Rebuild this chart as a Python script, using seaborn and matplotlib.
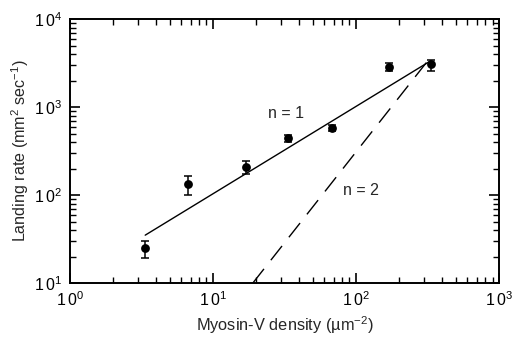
import numpy as np
import pandas as pd
import matplotlib
matplotlib.use("Agg")
import matplotlib.pyplot as plt
import seaborn as sns

# Data
density = [3.36, 6.7, 16.9, 33.6, 67.6, 169, 334]
rate = [24.8, 132, 208, 448, 577, 2870, 3055]
rate_lo = [19.4, 99, 172, 404, 530, 2580, 2590]
rate_hi = [30.2, 165, 243, 484, 619, 3180, 3420]

fit1_x = [3.36, 332]
fit1_y = [35, 3350]
fit2_x = [310, 19.0]
fit2_y = [3200, 10]

x_ticks = [1, 10, 100, 1000]
y_ticks = [10, 100, 1000, 10000]
x_ticklabels = [r"$\mathregular{1\:0^{0}}$", r"$\mathregular{1\:0^{1}}$",
                r"$\mathregular{1\:0^{2}}$", r"$\mathregular{1\:0^{3}}$"]
y_ticklabels = [r"$\mathregular{1\:0^{1}}$", r"$\mathregular{1\:0^{2}}$",
                r"$\mathregular{1\:0^{3}}$", r"$\mathregular{1\:0^{4}}$"]

sns.set_style("ticks")
plt.rcParams['font.family'] = ['Liberation Sans', 'DejaVu Sans']
plt.rcParams['mathtext.fontset'] = 'custom'
plt.rcParams['mathtext.rm'] = 'Liberation Sans'
plt.rcParams['mathtext.it'] = 'Liberation Sans:italic'

fig = plt.figure(figsize=(5.14, 3.41), dpi=100)
ax = fig.add_axes([0.136, 0.170, 0.835, 0.774])

df = pd.DataFrame({"x": density, "y": rate})
lo = np.array(rate) - np.array(rate_lo)
hi = np.array(rate_hi) - np.array(rate)
ax.errorbar(density, rate, yerr=[lo, hi], fmt='none', ecolor='black',
            elinewidth=1.1, capsize=3, capthick=1.1, zorder=2)
sns.scatterplot(data=df, x="x", y="y", ax=ax, color='black', s=40,
                edgecolor='black', linewidth=0, zorder=3, legend=False)

sns.lineplot(x=fit1_x, y=fit1_y, ax=ax, color='black', linewidth=1.0,
             estimator=None, sort=False)
sns.lineplot(x=fit2_x, y=fit2_y, ax=ax, color='black', linewidth=1.0,
             estimator=None, sort=False)
ax.lines[-1].set_dashes((13, 8))

ax.set_xscale('log')
ax.set_yscale('log')
ax.set_xlim(1, 1000)
ax.set_ylim(10, 10000)
ax.set_xticks(x_ticks)
ax.set_xticklabels(x_ticklabels)
ax.set_yticks(y_ticks)
ax.set_yticklabels(y_ticklabels)

ax.tick_params(which='both', direction='in', top=True, right=True,
               labelsize=11.5, colors='black', pad=5)
ax.tick_params(which='major', length=7, width=1.2)
ax.tick_params(which='minor', length=4, width=1.0)
for sp in ax.spines.values():
    sp.set_linewidth(1.4)
    sp.set_color('black')

ax.set_xlabel("Myosin-V density (\u00b5m$^{-2}$)", fontsize=11.8, labelpad=4)
ax.set_ylabel("Landing rate (mm$^{2}$ sec$^{-1}$)", fontsize=11.6, labelpad=2)

ax.text(0.462, 0.644, "n = 1", transform=ax.transAxes, fontsize=11.5,
        va='center')
ax.text(0.636, 0.352, "n = 2", transform=ax.transAxes, fontsize=11.5,
        va='center')

fig.savefig("out.png", dpi=100)
